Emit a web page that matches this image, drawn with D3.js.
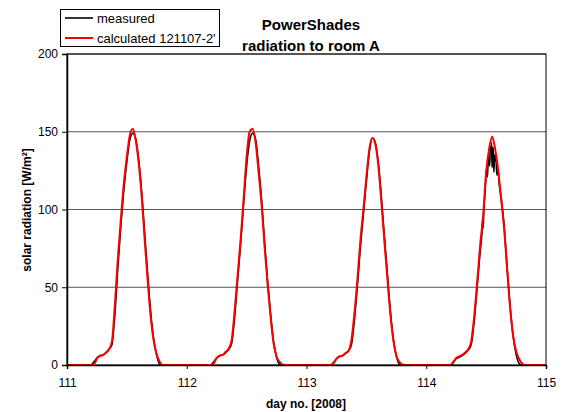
<!DOCTYPE html>
<html>
<head>
<meta charset="utf-8">
<script src="https://cdn.jsdelivr.net/npm/d3@7"></script>
<style>
  body { margin: 0; background: #fff; }
  svg { font-family: Arial, "Liberation Sans", sans-serif; }
</style>
</head>
<body>
<script>
// days shown and tick labels
var days = [111, 112, 113, 114];
var xTicks = [111, 112, 113, 114, 115];
var yTicks = [0, 50, 100, 150, 200];

// fraction of the day for the sampled values
var dayFrac = [0.200, 0.225, 0.250, 0.275, 0.300, 0.325, 0.350, 0.375, 0.400, 0.425, 0.450, 0.475, 0.500,
               0.525, 0.550, 0.575, 0.600, 0.625, 0.650, 0.675, 0.700, 0.725, 0.750, 0.775, 0.800, 0.825];

var measured111 = [0, 2, 4.5, 6, 6.5, 8, 10, 13, 33, 63, 90, 113, 131, 145, 149, 145, 131, 110, 83, 57, 33, 16, 6, 0.3, 0, 0];
var measured112 = [0, 2, 4.5, 6, 6.5, 8, 10, 14, 31, 55, 78, 104, 128, 144, 149, 145, 128, 106, 79, 54, 33, 15, 5, 0.5, 0, 0];
var measured113 = [0, 1.5, 4, 5.5, 6, 7.5, 9, 13, 29, 51, 76, 97, 118, 137, 146, 143, 130, 108, 83, 59, 35, 17, 6, 0.5, 0, 0];

var calculated111 = [0, 0.5, 4, 5.8, 6.3, 7.8, 10, 15, 39, 69, 94, 117, 134, 148, 152, 144, 129, 107, 79, 53, 30, 15, 6.5, 2, 0, 0];
var calculated112 = [0, 1, 4.5, 6, 6.5, 8.5, 10.5, 16, 35, 58, 81, 107, 134, 150, 152, 143, 124, 103, 76, 52, 31, 14, 5.5, 2, 0.3, 0];
var calculated113 = [0, 1, 4, 5.5, 6, 7.5, 9, 16, 33, 55, 80, 100, 121, 139, 146, 142, 128, 105, 80, 56, 33, 16, 6, 2, 0.3, 0];
var calculated114 = [0, 2, 4.5, 5.5, 6.5, 8, 10, 15, 31, 53, 77, 96, 124, 139, 147, 139, 126, 107, 88, 62, 37, 19, 9, 4, 1, 0];

// day 114 measured is noisy around noon, sampled finer
var measured114Frac = [0.200, 0.210, 0.225, 0.250, 0.275, 0.300, 0.325, 0.350, 0.375, 0.400, 0.425, 0.450, 0.465,
                       0.470, 0.475, 0.480, 0.490, 0.500, 0.505, 0.510, 0.515, 0.520, 0.530, 0.535, 0.540, 0.545,
                       0.550, 0.555, 0.560, 0.565, 0.570, 0.575, 0.580, 0.590, 0.600, 0.610, 0.625, 0.650, 0.675,
                       0.700, 0.725, 0.750, 0.775, 0.790, 0.825];
var measured114 = [0, 0, 1.5, 4, 5, 6, 7.5, 9.5, 13, 28, 50, 73, 85,
                   93, 88, 98, 110, 122, 126, 121, 128, 135, 128, 140, 138, 143,
                   127, 140, 137, 124, 135, 131, 136, 122, 125, 116, 108, 90, 63,
                   38, 19, 7, 1, 0, 0];

var margin = {top: 54, right: 19, bottom: 47, left: 67},
    width = 565 - margin.left - margin.right,
    height = 412 - margin.top - margin.bottom;

var svg = d3.select("body").append("svg")
    .attr("width", 565)
    .attr("height", 412);

var g = svg.append("g")
    .attr("transform", "translate(" + margin.left + "," + margin.top + ")");

var x = d3.scaleLinear().domain([111, 115]).range([0, width]);
var y = d3.scaleLinear().domain([0, 200]).range([height, 0]);

function buildSeries(fracs, valueArrays) {
  var pts = [[111, 0]];
  days.forEach(function(d, i) {
    var f = Array.isArray(fracs[0]) ? fracs[i] : fracs;
    f.forEach(function(t, j) { pts.push([d + t, valueArrays[i][j]]); });
  });
  pts.push([115, 0]);
  return pts;
}

var measured = buildSeries([dayFrac, dayFrac, dayFrac, measured114Frac],
                           [measured111, measured112, measured113, measured114]);
var calculated = buildSeries(dayFrac, [calculated111, calculated112, calculated113, calculated114]);

// gridlines
g.selectAll(".grid")
    .data(yTicks.slice(1))
  .enter().append("line")
    .attr("x1", 0).attr("x2", width)
    .attr("y1", function(d) { return y(d); })
    .attr("y2", function(d) { return y(d); })
    .attr("stroke", "#555")
    .attr("stroke-width", 1);

// plot border
g.append("rect")
    .attr("width", width).attr("height", height)
    .attr("fill", "none").attr("stroke", "#000").attr("stroke-width", 1);

var line = d3.line()
    .x(function(d) { return x(d[0]); })
    .y(function(d) { return y(d[1]); })
    .curve(d3.curveMonotoneX);

g.append("path")
    .datum(measured)
    .attr("fill", "none").attr("stroke", "#000").attr("stroke-width", 1.6)
    .attr("d", line);

g.append("path")
    .datum(calculated)
    .attr("fill", "none").attr("stroke", "#ff0000").attr("stroke-width", 2)
    .attr("d", line);

// axes
var yAxis = g.append("g")
    .call(d3.axisLeft(y).tickValues(yTicks).tickSize(5).tickPadding(4));
var xAxis = g.append("g")
    .attr("transform", "translate(0," + height + ")")
    .call(d3.axisBottom(x).tickValues(xTicks).tickFormat(d3.format("d")).tickSize(4).tickPadding(9));

[yAxis, xAxis].forEach(function(a) {
  a.select(".domain").attr("stroke", "#000").attr("stroke-width", 1.5);
  a.selectAll(".tick line").attr("stroke", "#000");
  a.selectAll("text").attr("font-size", 12).attr("fill", "#000")
      .attr("font-family", "Arial, 'Liberation Sans', sans-serif");
});

// titles
svg.append("text")
    .attr("x", 311).attr("y", 30)
    .attr("text-anchor", "middle")
    .attr("font-size", 15).attr("font-weight", "bold")
    .text("PowerShades");
svg.append("text")
    .attr("x", 311).attr("y", 51)
    .attr("text-anchor", "middle")
    .attr("font-size", 15).attr("font-weight", "bold")
    .text("radiation to room A");

svg.append("text")
    .attr("x", 306).attr("y", 408)
    .attr("text-anchor", "middle")
    .attr("font-size", 12).attr("font-weight", "bold")
    .text("day no. [2008]");

svg.append("text")
    .attr("transform", "translate(31,210) rotate(-90)")
    .attr("text-anchor", "middle")
    .attr("font-size", 12).attr("font-weight", "bold")
    .text("solar radiation [W/m²]");

// legend
var legendNames = ["measured", "calculated 121107-2'"];
var legendColors = ["#000", "#ff0000"];

var legend = svg.append("g");
legend.append("rect")
    .attr("x", 60.5).attr("y", 9.5).attr("width", 159).attr("height", 37)
    .attr("fill", "#fff").attr("stroke", "#000").attr("stroke-width", 1);

legendNames.forEach(function(name, i) {
  var ly = 18 + i * 20;
  legend.append("line")
      .attr("x1", 65).attr("x2", 93)
      .attr("y1", ly).attr("y2", ly)
      .attr("stroke", legendColors[i]).attr("stroke-width", i ? 2 : 1.6);
  legend.append("text")
      .attr("x", 97).attr("y", ly + 4.5)
      .attr("font-size", 13)
      .text(name);
});
</script>
</body>
</html>
